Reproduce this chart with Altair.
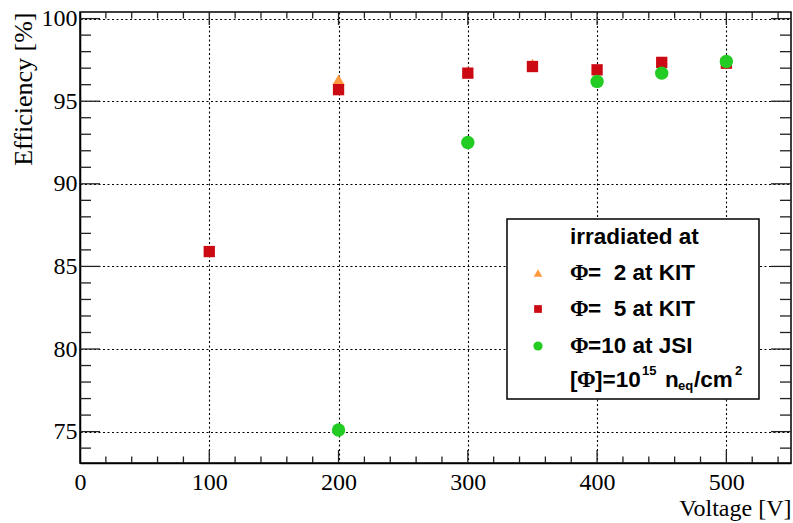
import altair as alt
import pandas as pd

# Efficiency vs. bias voltage for three irradiation fluences
volt_phi2 = [200, 300, 350]
eff_phi2 = [96.3, 96.8, 97.25]

volt_phi5 = [100, 200, 300, 350, 400, 450, 500]
eff_phi5 = [85.9, 95.7, 96.7, 97.1, 96.9, 97.35, 97.3]

volt_phi10 = [200, 300, 400, 450, 500]
eff_phi10 = [75.1, 92.5, 96.2, 96.7, 97.4]

x_labels = [0, 100, 200, 300, 400, 500]
y_labels = [75, 80, 85, 90, 95, 100]

COL_PHI2 = "#FF9A40"
COL_PHI5 = "#CC0A14"
COL_PHI10 = "#22CC22"

W, H = 711, 451
X_DOMAIN = [0, 550]
Y_DOMAIN = [73.1, 100.4]

xs = alt.Scale(domain=X_DOMAIN, nice=False, zero=False)
ys = alt.Scale(domain=Y_DOMAIN, nice=False, zero=False)

SERIF = "Liberation Serif"
SANS = "Liberation Sans"

x_axis = alt.Axis(
    values=x_labels, grid=True, gridColor="black", gridDash=[2, 2.5], gridWidth=1.1,
    ticks=False, tickSize=0, domainColor="black", domainWidth=1.5,
    labelFont=SERIF, labelFontSize=24, labelColor="black", labelPadding=7,
    labelFlush=False, labelOverlap=False,
    title="Voltage [V]", titleFont=SERIF, titleFontSize=24, titleFontWeight="normal",
    titleColor="black", titleAlign="right", titleAnchor="end", titleBaseline="alphabetic",
    titleX=W, titleY=52,
)
y_axis = alt.Axis(
    values=y_labels, grid=True, gridColor="black", gridDash=[2, 2.5], gridWidth=1.1,
    ticks=False, tickSize=0, domainColor="black", domainWidth=1.5,
    labelFont=SERIF, labelFontSize=24, labelColor="black", labelPadding=3,
    labelFlush=False, labelOverlap=False,
    title="Efficiency [%]", titleFont=SERIF, titleFontSize=26, titleFontWeight="normal",
    titleColor="black", titleAngle=270, titleAlign="right", titleAnchor="end",
    titleBaseline="middle", titleX=-57, titleY=0,
)


def series(volts, effs, shape, color, size):
    df = pd.DataFrame({"V": volts, "eff": effs})
    return alt.Chart(df).mark_point(shape=shape, filled=True, opacity=1, size=size, color=color).encode(
        x=alt.X("V:Q", scale=xs, axis=x_axis),
        y=alt.Y("eff:Q", scale=ys, axis=y_axis),
    )


pts2 = series(volt_phi2, eff_phi2, "triangle-up", COL_PHI2, 150)
pts5 = series(volt_phi5, eff_phi5, "square", COL_PHI5, 128)
pts10 = series(volt_phi10, eff_phi10, "circle", COL_PHI10, 180)

# Inward-pointing ticks on all four sides of the frame
x_major = [v for v in range(100, 550, 100)]
x_minor = [v for v in range(20, 550, 20) if v % 100]
y_major = [v for v in range(75, 101, 5)]
y_minor = [v for v in range(74, 101) if v % 5]

TICK = dict(color="#222222", strokeWidth=1.3)


def xticks(vals, length):
    df = pd.DataFrame({"V": vals})
    bot = alt.Chart(df).mark_rule(**TICK).encode(
        x=alt.X("V:Q", scale=xs, axis=x_axis), y=alt.value(H), y2=alt.value(H - length))
    top = alt.Chart(df).mark_rule(**TICK).encode(
        x=alt.X("V:Q", scale=xs, axis=x_axis), y=alt.value(0), y2=alt.value(length))
    return [bot, top]


def yticks(vals, length):
    df = pd.DataFrame({"eff": vals})
    left = alt.Chart(df).mark_rule(**TICK).encode(
        y=alt.Y("eff:Q", scale=ys, axis=y_axis), x=alt.value(0), x2=alt.value(length))
    right = alt.Chart(df).mark_rule(**TICK).encode(
        y=alt.Y("eff:Q", scale=ys, axis=y_axis), x=alt.value(W), x2=alt.value(W - length))
    return [left, right]


ticks = xticks(x_major, 13) + xticks(x_minor, 6.5) + yticks(y_major, 20) + yticks(y_minor, 11)

# Legend box
one = pd.DataFrame({"k": [0]})
box = alt.Chart(one).mark_rect(fill="white", stroke="black", strokeWidth=1.5).encode(
    x=alt.value(427), x2=alt.value(679), y=alt.value(207), y2=alt.value(387))


def txt(s, x, y, size=22.5, font=SANS, weight="bold"):
    return alt.Chart(one).mark_text(
        text=s, align="left", baseline="middle", font=font, fontSize=size,
        fontWeight=weight, color="black",
    ).encode(x=alt.value(x), y=alt.value(y))


def sym(shape, color, size, y):
    return alt.Chart(one).mark_point(shape=shape, filled=True, opacity=1, size=size, color=color).encode(
        x=alt.value(458), y=alt.value(y))


NB = "\u00a0"
legend = [
    box,
    txt("irradiated at", 490, 225),
    sym("triangle-up", COL_PHI2, 75, 261),
    txt("Φ", 490, 261, font=SERIF),
    txt("=" + NB + NB + "2 at KIT", 508, 261),
    sym("square", COL_PHI5, 60, 297),
    txt("Φ", 490, 297, font=SERIF),
    txt("=" + NB + NB + "5 at KIT", 508, 297),
    sym("circle", COL_PHI10, 85, 334),
    txt("Φ", 490, 334, font=SERIF),
    txt("=10 at JSI", 508, 334),
    txt("[", 490, 368),
    txt("Φ", 497, 368, font=SERIF),
    txt("]=10", 515, 368),
    txt("15", 562, 359, size=13),
    txt("n", 585, 368),
    txt("eq", 598, 374, size=13),
    txt("/cm", 614, 368),
    txt("2", 655, 359, size=13),
]

chart = alt.layer(pts2, pts5, pts10, *ticks, *legend).properties(
    width=W, height=H,
    padding={"left": 80, "top": 12, "right": 2, "bottom": 60},
    autosize=alt.AutoSizeParams(type="none"),
    background="white",
).configure_view(stroke="black", strokeWidth=1.5)

chart.save("out.html", embed_options={"renderer": "svg", "actions": False})
